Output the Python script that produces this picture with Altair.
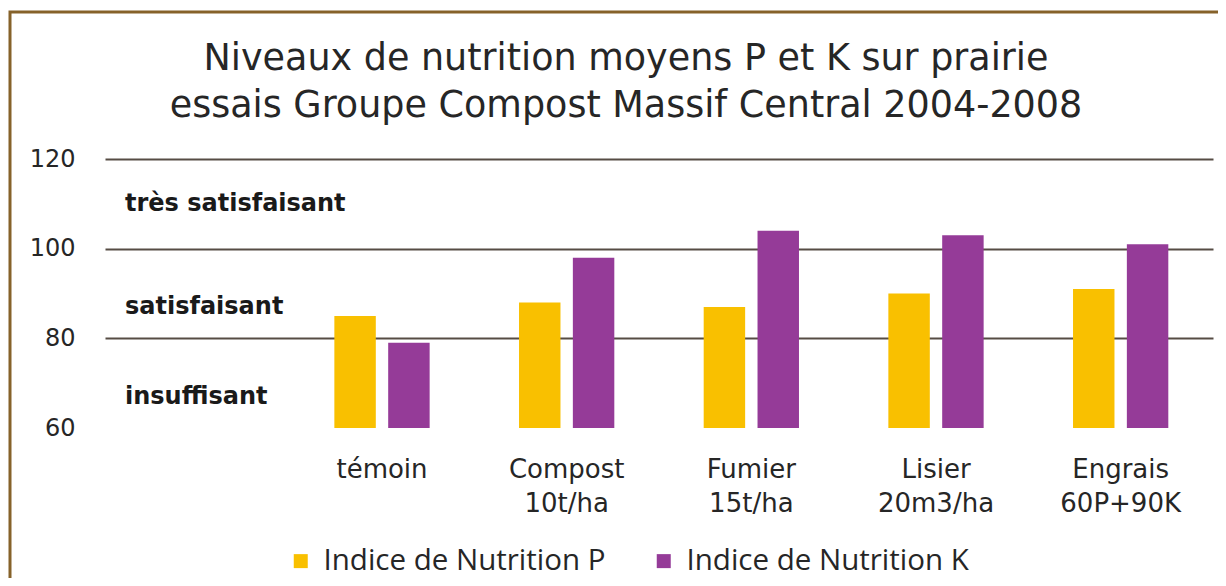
import altair as alt
import pandas as pd

categories = ["témoin", "Compost 10t/ha", "Fumier 15t/ha", "Lisier 20m3/ha", "Engrais 60P+90K"]
series = ["Indice de Nutrition P", "Indice de Nutrition K"]
p_values = [85, 88, 87, 90, 91]
k_values = [79, 98, 104, 103, 101]
y_ticks = [60, 80, 100, 120]
zone_labels = ["très satisfaisant", "satisfaisant", "insuffisant"]
zone_values = [110, 87, 67]
title_lines = ["Niveaux de nutrition moyens P et K sur prairie",
               "essais Groupe Compost Massif Central 2004-2008"]
colors = ["#F9C000", "#953B98"]

rows = []
for c, p, k in zip(categories, p_values, k_values):
    rows.append({"cat": c, "series": series[0], "value": p})
    rows.append({"cat": c, "series": series[1], "value": k})
df = pd.DataFrame(rows)
zones = pd.DataFrame({"label": zone_labels, "zy": zone_values})

# an empty leading band keeps room for the zone labels on the left
x_domain = [" "] + categories

W, H = 1108, 269

border = alt.Chart(alt.Data(values=[{"a": 1}])).mark_rect(
    fill=None, stroke="#86622A", strokeWidth=3
).encode(
    x=alt.value(-95), y=alt.value(-147), x2=alt.value(1300), y2=alt.value(700)
)

bars = alt.Chart(df).mark_bar().encode(
    x=alt.X("cat:N", sort=categories,
            scale=alt.Scale(domain=x_domain, paddingInner=0.484, paddingOuter=0.242),
            axis=alt.Axis(title=None, labelExpr="split(datum.label, ' ')",
                          labelFont="DejaVu Sans", labelFontSize=26, labelColor="#262626",
                          labelLineHeight=34, labelPadding=28, labelAngle=0,
                          domain=False, ticks=False, grid=False)),
    xOffset=alt.XOffset("series:N", sort=series, scale=alt.Scale(paddingInner=0.23)),
    y=alt.Y("value:Q", scale=alt.Scale(domain=[60, 120], zero=False, nice=False),
            axis=alt.Axis(title=None, values=y_ticks, labelFont="DejaVu Sans",
                          labelFontSize=24, labelColor="#262626", labelPadding=30,
                          domain=False, ticks=False, grid=True, gridColor="#564c44",
                          gridWidth=2,
                          gridOpacity={"condition": {"test": "datum.value == 60", "value": 0}, "value": 1})),
    y2=alt.datum(60),
    color=alt.Color("series:N", sort=series,
                    scale=alt.Scale(domain=series, range=colors),
                    legend=alt.Legend(title=None, orient="none", legendX=181, legendY=387,
                                      direction="horizontal", symbolType="square",
                                      symbolSize=196, symbolStrokeWidth=0,
                                      labelFont="Open Sans", labelFontSize=29.5,
                                      labelColor="#262626", labelOffset=8,
                                      labelLimit=0, columnPadding=43)),
)

zone_text = alt.Chart(zones).mark_text(
    align="left", baseline="middle", font="DejaVu Sans", fontWeight="bold",
    fontSize=24, color="#1a1a1a"
).encode(
    x=alt.value(20),
    y=alt.Y("zy:Q"),
    text="label:N",
)

chart = alt.layer(border, bars, zone_text).properties(
    width=W, height=H,
    autosize=alt.AutoSizeParams(type="none"),
    padding={"left": 97, "top": 151, "right": 5, "bottom": 150},
    title=alt.TitleParams(text=title_lines, font="DejaVu Sans", fontSize=36.5,
                          fontWeight="normal", color="#262626", anchor="middle",
                          dx=-33, dy=136, offset=22, lineHeight=47),
    background="white",
).configure_view(stroke=None)

chart.save("out.html", embed_options={"renderer": "svg", "actions": False})
